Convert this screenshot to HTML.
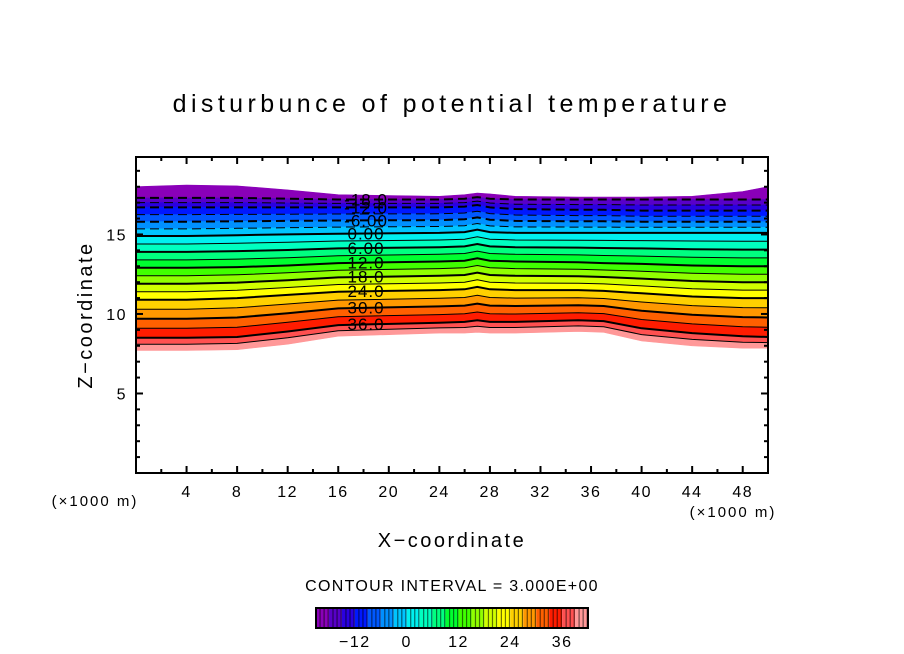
<!DOCTYPE html>
<html><head><meta charset="utf-8"><style>
html,body{margin:0;padding:0;background:#fff;width:904px;height:654px;overflow:hidden}
svg text{font-family:"Liberation Sans",sans-serif;fill:#000}
</style></head><body>
<svg id="chart" width="904" height="654" viewBox="0 0 904 654" xmlns="http://www.w3.org/2000/svg">
<text x="452" y="112" font-size="25" text-anchor="middle" letter-spacing="4.4">disturbunce of potential temperature</text>
<g id="field"></g>
<g id="lines"></g>
<g id="labels"></g>
<g id="axes"></g>
<text transform="translate(92,315) rotate(-90)" font-size="20" text-anchor="middle" letter-spacing="2.5">Z−coordinate</text>
<text x="452" y="547" font-size="20" text-anchor="middle" letter-spacing="2.5">X−coordinate</text>
<text x="95" y="506" font-size="15" text-anchor="middle" letter-spacing="2">(×1000 m)</text>
<text x="733" y="517" font-size="15" text-anchor="middle" letter-spacing="2">(×1000 m)</text>
<text x="452" y="591" font-size="16" text-anchor="middle" letter-spacing="1.3">CONTOUR INTERVAL = 3.000E+00</text>
<g id="cbar"></g>
</svg>
<script>
const xStations=[0,4,8,12,16,24,26,27,28,30,35,37,40,44,48,50];
const keyLevels=[42,36,24,12,0,-12,-18,-21];
const h42=[7.7,7.7,7.75,8.1,8.6,8.8,8.8,8.85,8.8,8.8,8.9,8.85,8.3,8.0,7.85,7.85];
const h36=[8.5,8.5,8.55,8.9,9.3,9.45,9.5,9.6,9.5,9.5,9.6,9.55,9.1,8.8,8.6,8.55];
const h24=[10.9,10.9,11.0,11.2,11.4,11.5,11.55,11.7,11.55,11.5,11.5,11.45,11.3,11.1,11.0,11.0];
const h12=[12.9,12.9,12.95,13.05,13.2,13.3,13.35,13.5,13.35,13.3,13.25,13.2,13.15,13.05,13.0,13.0];
const h0=[14.9,14.9,14.95,15.0,15.05,15.1,15.15,15.3,15.15,15.1,15.1,15.1,15.1,15.1,15.1,15.1];
const hm12=[16.7,16.7,16.7,16.7,16.7,16.7,16.75,16.85,16.7,16.6,16.55,16.55,16.5,16.5,16.5,16.5];
const hm18=[17.3,17.3,17.3,17.25,17.2,17.2,17.25,17.35,17.25,17.2,17.2,17.2,17.2,17.2,17.2,17.2];
const hm21=[18.0,18.1,18.05,17.8,17.5,17.4,17.5,17.6,17.55,17.4,17.35,17.35,17.35,17.4,17.7,18.0];
const bandLevels=[-21,-18,-15,-12,-9,-6,-3,0,3,6,9,12,15,18,21,24,27,30,33,36,39];
const bandColors=["#8a00b8","#5800c8","#2a00e0","#0018ff","#0058ff","#0090ff","#00c4ff","#00f0f0","#00ffc0","#00ff80","#00ff30","#40ff00","#90ff00","#d0ff00","#ffff00","#ffd000","#ff9800","#ff6000","#ff1c00","#ff5050","#ff9898"];
const labelLevels=[36,30,24,18,12,6,0,-6,-12,-18];
const labelText=["36.0","30.0","24.0","18.0","12.0","6.00","0.00","-6.00","-12.0","-18.0"];
const xTicks=[4,8,12,16,20,24,28,32,36,40,44,48];
const yTicks=[5,10,15];
const cbarTicks=[-12,0,12,24,36];

const NS="http://www.w3.org/2000/svg";
const X0=136,X1=768,Y0=473,Y1=157,ZMAX=19.87;
const sx=x=>X0+(x/50)*(X1-X0);
const sy=z=>Y0-(z/ZMAX)*(Y0-Y1);
const keyH=[h42,h36,h24,h12,h0,hm12,hm18,hm21];
function heightOf(v,i){
  for(let k=0;k<keyLevels.length-1;k++){
    const a=keyLevels[k],b=keyLevels[k+1];
    if(v<=a&&v>=b){const t=(a-v)/(a-b);return keyH[k][i]+t*(keyH[k+1][i]-keyH[k][i]);}
  }
  return v>42?keyH[0][i]:keyH[7][i];
}
function levelPts(v){return xStations.map((x,i)=>[sx(x),sy(heightOf(v,i))]);}
function el(tag,attrs,parent){const e=document.createElementNS(NS,tag);for(const k in attrs)e.setAttribute(k,attrs[k]);parent.appendChild(e);return e;}
const field=document.getElementById('field');
bandLevels.forEach((lv,j)=>{
  const lo=levelPts(lv+3),hi=levelPts(lv);
  const pts=lo.concat(hi.slice().reverse()).map(p=>p[0].toFixed(1)+','+p[1].toFixed(1)).join(' ');
  const p=el('polygon',{points:pts,fill:bandColors[j],stroke:bandColors[j],'stroke-width':0.6},field);
  
  
});
const lines=document.getElementById('lines');
for(let v=-18;v<=39;v+=3){
  const pts=levelPts(v).map(p=>p[0].toFixed(1)+','+p[1].toFixed(1)).join(' ');
  const thick=(v%6===0);
  const a={points:pts,fill:'none',stroke:'#000','stroke-width':thick?2:1};
  if(v<0)a['stroke-dasharray']='9,5';
  const l=el('polyline',a,lines);
  
  
}
const labels=document.getElementById('labels');
labelLevels.forEach((v,j)=>{
  const z=heightOf(v,4)*0.5+heightOf(v,5)*0.5;
  const t=el('text',{x:sx(18.2),y:sy(z)+6,'font-size':17,'text-anchor':'middle','letter-spacing':1},labels);
  t.textContent=labelText[j];
  
  
});
const axes=document.getElementById('axes');
el('rect',{x:X0,y:Y1,width:X1-X0,height:Y0-Y1,fill:'none',stroke:'#000','stroke-width':2},axes);
for(let x=2;x<50;x+=2){
  const maj=x%4===0,L=maj?7:4;
  el('line',{x1:sx(x),y1:Y0,x2:sx(x),y2:Y0-L,stroke:'#000','stroke-width':2},axes);
  el('line',{x1:sx(x),y1:Y1,x2:sx(x),y2:Y1+L,stroke:'#000','stroke-width':2},axes);
}
for(let z=1;z<20;z++){
  const maj=z%5===0,L=maj?7:4;
  el('line',{x1:X0,y1:sy(z),x2:X0+L,y2:sy(z),stroke:'#000','stroke-width':2},axes);
  el('line',{x1:X1,y1:sy(z),x2:X1-L,y2:sy(z),stroke:'#000','stroke-width':2},axes);
}
xTicks.forEach(x=>{const t=el('text',{x:sx(x),y:497,'font-size':16,'text-anchor':'middle','letter-spacing':1.5},axes);t.textContent=x;
  
  });
yTicks.forEach(z=>{const t=el('text',{x:127,y:sy(z)+6,'font-size':16,'text-anchor':'end','letter-spacing':1.5},axes);t.textContent=z;
  
  });
const cbar=document.getElementById('cbar');
const CB0=316,CBW=272,cbv=v=>CB0+(v+21)/63*CBW;
bandLevels.forEach((lv,j)=>{
  const x0=cbv(lv),w=cbv(lv+3)-x0;
  const r=el('rect',{x:x0,y:608,width:w,height:20,fill:bandColors[j]},cbar);
  
  
  for(let s=1;s<=3;s++){el('line',{x1:x0+w*s/3.2,y1:608,x2:x0+w*s/3.2,y2:628,stroke:'#000','stroke-width':1.2,opacity:0.55},cbar);}
});
el('rect',{x:CB0,y:608,width:CBW,height:20,fill:'none',stroke:'#000','stroke-width':2},cbar);
cbarTicks.forEach(v=>{const t=el('text',{x:cbv(v),y:647,'font-size':16,'text-anchor':'middle','letter-spacing':1.5},cbar);t.textContent=v<0?'−'+(-v):v;
  
  });
</script>
</body></html>
